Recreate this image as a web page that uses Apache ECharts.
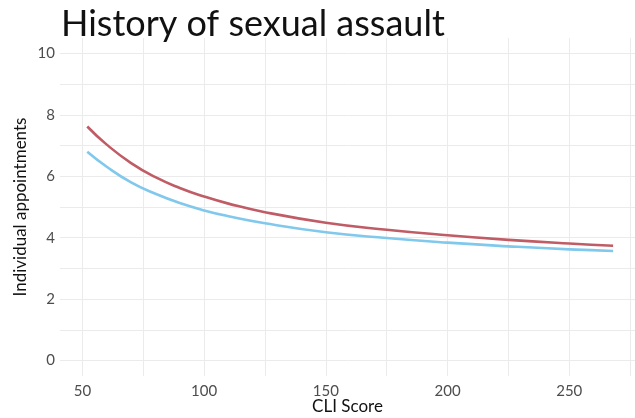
<!DOCTYPE html>
<html>
<head>
<meta charset="utf-8">
<script src="https://cdn.jsdelivr.net/npm/echarts@6/dist/echarts.min.js"></script>
<style>
  html, body { margin: 0; padding: 0; background: #fff; }
  #chart { width: 635px; height: 418px; }
</style>
</head>
<body>
<div id="chart"></div>
<script>
const chart = echarts.init(document.getElementById("chart"));

// values
const cliScore = [52, 60, 70, 80, 90, 100, 110, 125, 150, 175, 200, 225, 250, 268];
const redSeries = [7.62, 7.03, 6.43, 5.97, 5.62, 5.34, 5.11, 4.83, 4.49, 4.26, 4.08, 3.93, 3.81, 3.74];
const blueSeries = [6.8, 6.31, 5.8, 5.43, 5.13, 4.89, 4.7, 4.47, 4.18, 3.99, 3.84, 3.72, 3.62, 3.57];
const xGrid = [50, 75, 100, 125, 150, 175, 200, 225, 250, 275];
const xLabels = [50, 100, 150, 200, 250];
const yGrid = [0, 1, 2, 3, 4, 5, 6, 7, 8, 9, 10];
const yLabels = [0, 2, 4, 6, 8, 10];

const FONT = "Lato";

chart.setOption({
  backgroundColor: "#fff",
  animation: false,
  title: {
    text: "History of sexual assault",
    left: 56, top: 1,
    textStyle: { fontFamily: FONT, fontSize: 36, fontWeight: "normal", color: "#111" },
  },
  grid: { left: 60, right: 0, top: 38, bottom: 42, outerBoundsMode: "none" },
  xAxis: {
    type: "value", min: 40.8, max: 277,
    name: "CLI Score", nameLocation: "middle", nameGap: 22, nameMoveOverlap: false,
    nameTextStyle: { fontFamily: FONT, fontSize: 17, color: "#111" },
    axisLine: { show: false },
    axisTick: { show: false, customValues: xGrid },
    axisLabel: { customValues: xLabels, fontFamily: FONT, fontSize: 15, color: "#4d4d4d", margin: 8 },
    splitLine: { show: true, lineStyle: { color: "#ebebeb", width: 1 } },
  },
  yAxis: {
    type: "value", min: -0.5, max: 10.5,
    name: "Individual appointments", nameLocation: "middle", nameGap: 31, nameMoveOverlap: false,
    nameTextStyle: { fontFamily: FONT, fontSize: 17, color: "#111" },
    axisLine: { show: false },
    axisTick: { show: false, customValues: yGrid },
    axisLabel: { customValues: yLabels, fontFamily: FONT, fontSize: 15, color: "#4d4d4d", margin: 5 },
    splitLine: { show: true, lineStyle: { color: "#ebebeb", width: 1 } },
  },
  series: [
    {
      type: "line", smooth: true, symbol: "none",
      data: cliScore.map((x, i) => [x, redSeries[i]]),
      lineStyle: { color: "#c05c65", width: 2.6 },
    },
    {
      type: "line", smooth: true, symbol: "none",
      data: cliScore.map((x, i) => [x, blueSeries[i]]),
      lineStyle: { color: "#80c8ec", width: 2.6 },
    },
  ],
});
</script>
</body>
</html>
